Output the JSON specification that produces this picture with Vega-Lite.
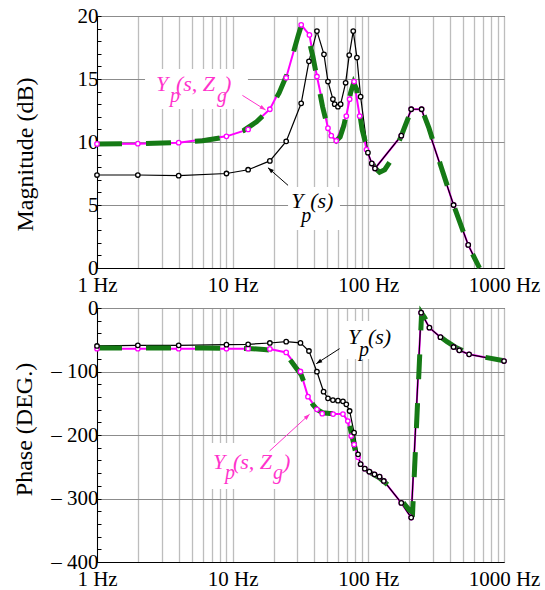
{
  "$schema": "https://vega.github.io/schema/vega-lite/v6.json",
  "padding": {"left": 12, "top": 4, "right": 0, "bottom": 0},
  "spacing": 0,
  "resolve": {"scale": {"x": "independent", "y": "independent"}},
  "config": {
    "font": "Liberation Serif, Times New Roman, serif",
    "view": {"stroke": "#000000", "strokeWidth": 1},
    "text": {"font": "Liberation Serif, Times New Roman, serif"},
    "axis": {"labelFont": "Liberation Serif, Times New Roman, serif", "titleFont": "Liberation Serif, Times New Roman, serif", "labelFontSize": 21, "titleFontSize": 24, "titleFontWeight": "normal", "labelColor": "#000000", "titleColor": "#000000", "domainColor": "#000000", "labelFlush": false, "labelOverlap": false}
  },
  "datasets": {
    "mag": [
      {"s":"m","f":1,"v":9.85},{"s":"m","f":2,"v":9.87},{"s":"m","f":4,"v":9.95},{"s":"m","f":9,"v":10.45},{"s":"m","f":13,"v":11.0},{"s":"m","f":18.8,"v":12.6},{"s":"m","f":24.8,"v":15.1},{"s":"m","f":32,"v":19.3},{"s":"m","f":36.8,"v":18.5},{"s":"m","f":41.8,"v":15.2},{"s":"m","f":50.4,"v":11.1},{"s":"m","f":53.3,"v":10.5},{"s":"m","f":58,"v":10.1},{"s":"m","f":68.8,"v":12.06},{"s":"m","f":72.8,"v":13.4},{"s":"m","f":78.5,"v":14.8},{"s":"m","f":86.3,"v":12.06},{"s":"m","f":96.9,"v":9.4},{"s":"m","f":106,"v":8.3},{"s":"m","f":112,"v":7.9},{"s":"m","f":175,"v":10.5},{"s":"m","f":207,"v":12.6},{"s":"m","f":247,"v":12.6},{"s":"m","f":425,"v":5.0},{"s":"m","f":545,"v":1.83},{"s":"m","f":660,"v":0},
      {"s":"k","f":1,"v":7.38},{"s":"k","f":2,"v":7.38},{"s":"k","f":4,"v":7.33},{"s":"k","f":9,"v":7.5},{"s":"k","f":13,"v":7.8},{"s":"k","f":18.8,"v":8.5},{"s":"k","f":24.8,"v":10.05},{"s":"k","f":32,"v":13.07},{"s":"k","f":36.5,"v":16.4},{"s":"k","f":41.8,"v":18.8},{"s":"k","f":47.1,"v":16.96},{"s":"k","f":50.4,"v":14.8},{"s":"k","f":54.8,"v":13.4},{"s":"k","f":56.5,"v":13.0},{"s":"k","f":59.7,"v":12.8},{"s":"k","f":62.5,"v":13.0},{"s":"k","f":68,"v":14.7},{"s":"k","f":72.3,"v":16.9},{"s":"k","f":77.4,"v":18.8},{"s":"k","f":82.4,"v":16.7},{"s":"k","f":87.7,"v":13.6},{"s":"k","f":99.3,"v":9.15},{"s":"k","f":106,"v":8.3},{"s":"k","f":112,"v":7.9},{"s":"k","f":175,"v":10.5},{"s":"k","f":207,"v":12.6},{"s":"k","f":247,"v":12.6},{"s":"k","f":425,"v":5.0},{"s":"k","f":545,"v":1.83},{"s":"k","f":660,"v":0},
      {"s":"g","f":1,"v":9.85},{"s":"g","f":2,"v":9.87},{"s":"g","f":4,"v":9.95},{"s":"g","f":6,"v":10.1},{"s":"g","f":9,"v":10.4},{"s":"g","f":12,"v":10.9},{"s":"g","f":15,"v":11.6},{"s":"g","f":18.8,"v":12.6},{"s":"g","f":22,"v":13.9},{"s":"g","f":25,"v":15.3},{"s":"g","f":28,"v":17.1},{"s":"g","f":30.5,"v":18.5},{"s":"g","f":32,"v":19.2},{"s":"g","f":34,"v":19.0},{"s":"g","f":36.5,"v":18.1},{"s":"g","f":39,"v":16.8},{"s":"g","f":42,"v":15.0},{"s":"g","f":46,"v":12.8},{"s":"g","f":50,"v":11.2},{"s":"g","f":54,"v":10.4},{"s":"g","f":58,"v":10.1},{"s":"g","f":62,"v":10.4},{"s":"g","f":66,"v":11.3},{"s":"g","f":70,"v":12.6},{"s":"g","f":74,"v":13.9},{"s":"g","f":78,"v":14.7},{"s":"g","f":82,"v":14.2},{"s":"g","f":86,"v":12.4},{"s":"g","f":90,"v":11.0},{"s":"g","f":95,"v":10.0},{"s":"g","f":100,"v":9.2},{"s":"g","f":106,"v":8.4},{"s":"g","f":113,"v":7.9},{"s":"g","f":121,"v":7.6},{"s":"g","f":132,"v":7.8},{"s":"g","f":150,"v":8.7},{"s":"g","f":175,"v":10.5},{"s":"g","f":200,"v":12.1},{"s":"g","f":225,"v":12.7},{"s":"g","f":250,"v":12.5},{"s":"g","f":280,"v":11.1},{"s":"g","f":340,"v":8.2},{"s":"g","f":425,"v":5.0},{"s":"g","f":545,"v":1.8},{"s":"g","f":660,"v":0}
    ],
    "ph": [
      {"s":"m","f":1,"v":-64},{"s":"m","f":2,"v":-64},{"s":"m","f":4,"v":-64},{"s":"m","f":9,"v":-64},{"s":"m","f":13,"v":-64},{"s":"m","f":18.8,"v":-64.5},{"s":"m","f":24.8,"v":-70},{"s":"m","f":31.6,"v":-100},{"s":"m","f":35.9,"v":-139.6},{"s":"m","f":41.8,"v":-159.6},{"s":"m","f":45.7,"v":-166.4},{"s":"m","f":55,"v":-167},{"s":"m","f":65,"v":-167},{"s":"m","f":70.6,"v":-178},{"s":"m","f":74.8,"v":-201.6},{"s":"m","f":78.5,"v":-215},{"s":"m","f":84,"v":-235},{"s":"m","f":87.7,"v":-246},{"s":"m","f":94.2,"v":-253},{"s":"m","f":101.8,"v":-257.7},{"s":"m","f":111,"v":-262},{"s":"m","f":121,"v":-265.6},{"s":"m","f":130,"v":-272.4},{"s":"m","f":175,"v":-307},{"s":"m","f":207,"v":-330},{"s":"m","f":245,"v":-7.4},{"s":"m","f":282,"v":-31},{"s":"m","f":340,"v":-46},{"s":"m","f":425,"v":-61.4},{"s":"m","f":468,"v":-66.6},{"s":"m","f":553,"v":-73},{"s":"m","f":1000,"v":-83.5},
      {"s":"k","f":1,"v":-59.8},{"s":"k","f":2,"v":-58.8},{"s":"k","f":4,"v":-58.8},{"s":"k","f":9,"v":-57.7},{"s":"k","f":13,"v":-57.2},{"s":"k","f":18.8,"v":-55.1},{"s":"k","f":24.8,"v":-53},{"s":"k","f":31.6,"v":-55},{"s":"k","f":36.5,"v":-67.7},{"s":"k","f":41.8,"v":-100.3},{"s":"k","f":46.8,"v":-131.8},{"s":"k","f":50.4,"v":-142.2},{"s":"k","f":54.8,"v":-145},{"s":"k","f":59.7,"v":-146},{"s":"k","f":65,"v":-147},{"s":"k","f":68.8,"v":-151.7},{"s":"k","f":72.8,"v":-162.2},{"s":"k","f":78.5,"v":-196.3},{"s":"k","f":84,"v":-230.4},{"s":"k","f":87.7,"v":-246},{"s":"k","f":94.2,"v":-253},{"s":"k","f":101.8,"v":-257.7},{"s":"k","f":111,"v":-262},{"s":"k","f":121,"v":-265.6},{"s":"k","f":130,"v":-272.4},{"s":"k","f":175,"v":-307},{"s":"k","f":207,"v":-330},{"s":"k","f":245,"v":-7.4},{"s":"k","f":282,"v":-31},{"s":"k","f":340,"v":-46},{"s":"k","f":425,"v":-61.4},{"s":"k","f":468,"v":-66.6},{"s":"k","f":553,"v":-73},{"s":"k","f":1000,"v":-83.5},
      {"s":"g","f":1,"v":-63},{"s":"g","f":3,"v":-63},{"s":"g","f":6,"v":-63},{"s":"g","f":10,"v":-63.5},{"s":"g","f":14,"v":-64},{"s":"g","f":17,"v":-65.5},{"s":"g","f":20,"v":-67},{"s":"g","f":23,"v":-72},{"s":"g","f":26,"v":-79},{"s":"g","f":29,"v":-93},{"s":"g","f":32,"v":-105},{"s":"g","f":34,"v":-120},{"s":"g","f":36,"v":-137},{"s":"g","f":39,"v":-152},{"s":"g","f":42,"v":-160},{"s":"g","f":46,"v":-165},{"s":"g","f":52,"v":-166},{"s":"g","f":60,"v":-166},{"s":"g","f":66,"v":-168},{"s":"g","f":70,"v":-174},{"s":"g","f":73,"v":-186},{"s":"g","f":76,"v":-203},{"s":"g","f":80,"v":-224},{"s":"g","f":84,"v":-239},{"s":"g","f":89,"v":-249},{"s":"g","f":95,"v":-254},{"s":"g","f":105,"v":-260},{"s":"g","f":120,"v":-267},{"s":"g","f":140,"v":-279},{"s":"g","f":160,"v":-292},{"s":"g","f":185,"v":-309},{"s":"g","f":200,"v":-318},{"s":"g","f":212,"v":-322},{"s":"g","f":247,"v":-8},{"s":"g","f":260,"v":-15},{"s":"g","f":282,"v":-29},{"s":"g","f":320,"v":-41},{"s":"g","f":380,"v":-53},{"s":"g","f":450,"v":-63},{"s":"g","f":550,"v":-71},{"s":"g","f":700,"v":-77},{"s":"g","f":1000,"v":-83}
    ],
    "tmag": [
      {"c":"m","r":"main","f":2.72,"v":14.05,"t":"Y"},{"c":"m","r":"sub","f":3.45,"v":13.2,"t":"p"},{"c":"m","r":"main","f":3.82,"v":14.05,"t":"(s, Z"},{"c":"m","r":"sub","f":7.66,"v":13.2,"t":"g"},{"c":"m","r":"main","f":8.62,"v":14.05,"t":")"},
      {"c":"k","r":"main","f":27.0,"v":4.79,"t":"Y"},{"c":"k","r":"sub","f":32.0,"v":3.65,"t":"p"},{"c":"k","r":"main","f":37.3,"v":4.79,"t":"(s)"}
    ],
    "tph": [
      {"c":"k","r":"main","f":70.7,"v":-57.2,"t":"Y"},{"c":"k","r":"sub","f":85.5,"v":-76,"t":"p"},{"c":"k","r":"main","f":99.3,"v":-57.2,"t":"(s)"},
      {"c":"m","r":"main","f":7.16,"v":-254,"t":"Y"},{"c":"m","r":"sub","f":8.78,"v":-270,"t":"p"},{"c":"m","r":"main","f":10.05,"v":-254,"t":"(s, Z"},{"c":"m","r":"sub","f":19.8,"v":-270,"t":"g"},{"c":"m","r":"main","f":23.5,"v":-254,"t":")"}
    ],
    "bmag": [
      {"f":2.26,"f2":12.96,"v":15.79,"v2":12.62},
      {"f":25.6,"f2":61.8,"v":6.43,"v2":3.02}
    ],
    "bph": [
      {"f":65,"f2":159.7,"v":-20.5,"v2":-80.3},
      {"f":6.36,"f2":28.8,"v":-212.6,"v2":-285}
    ],
    "amag": [
      {"id":"a1","c":"m","f":17.5,"v":12.54,"f0":11.8,"v0":13.7},
      {"id":"a2","c":"k","f":18.2,"v":7.96,"f0":25.6,"v0":6.56}
    ],
    "aph": [
      {"id":"a3","c":"k","f":41.3,"v":-87.7,"f0":61.4,"v0":-64},
      {"id":"a4","c":"m","f":36.9,"v":-167.4,"f0":18.7,"v0":-225.2}
    ]
  },
  "vconcat": [
    {
      "width": 407,
      "height": 252,
      "data": {"name": "mag"},
      "encoding": {
        "x": {"field": "f", "type": "quantitative", "scale": {"type": "log", "domain": [1, 1000]},
          "axis": {"title": null, "values": [1,2,3,4,5,6,7,8,9,10,20,30,40,50,60,70,80,90,100,200,300,400,500,600,700,800,900,1000], "labelExpr": "indexof([1,10,100,1000], datum.value) >= 0 ? datum.value + ' Hz' : ''", "ticks": false, "grid": true, "gridColor": "#bdbdbd", "gridWidth": 1.3, "labelPadding": 6}},
        "y": {"field": "v", "type": "quantitative", "scale": {"domain": [0, 20]},
          "axis": {"title": "Magnitude (dB)", "titleY": 138, "values": [0,1,2,3,4,5,6,7,8,9,10,11,12,13,14,15,16,17,18,19,20], "labelExpr": "datum.value % 5 === 0 ? datum.label : ''", "ticks": true, "tickSize": -4, "tickColor": "#000000", "labelPadding": 3, "grid": true, "gridColor": "#8c8c8c", "gridWidth": 1, "gridOpacity": {"condition": {"test": "datum.value % 5 === 0", "value": 1}, "value": 0}, "titlePadding": 40}}
      },
      "layer": [
        {"data": {"name": "bmag"}, "mark": {"type": "rect", "fill": "white", "stroke": null}, "encoding": {"x2": {"field": "f2"}, "y2": {"field": "v2"}}},
        {"transform": [{"filter": "datum.s === 'm'"}], "mark": {"type": "line", "color": "#ff00ff", "strokeWidth": 2}},
        {"transform": [{"filter": "datum.s === 'k'"}], "mark": {"type": "line", "color": "#000000", "strokeWidth": 1.2}},
        {"transform": [{"filter": "datum.s === 'g'"}], "mark": {"type": "line", "color": "#157a15", "strokeWidth": 5, "strokeDash": [25, 24], "strokeCap": "butt"}},
        {"transform": [{"filter": "datum.s === 'm' && datum.v > 0.3"}], "mark": {"type": "point", "shape": "circle", "filled": true, "fill": "white", "stroke": "#ff00ff", "strokeWidth": 1.3, "size": 20, "opacity": 1}},
        {"transform": [{"filter": "datum.s === 'k' && datum.v > 0.3"}], "mark": {"type": "point", "shape": "circle", "filled": true, "fill": "white", "stroke": "#000000", "strokeWidth": 1.3, "size": 20, "opacity": 1}},
        {"data": {"name": "amag"}, "mark": {"type": "rule", "strokeWidth": 1}, "encoding": {"x2": {"field": "f0"}, "y2": {"field": "v0"}, "color": {"field": "c", "type": "nominal", "scale": {"domain": ["k", "m"], "range": ["#000000", "#ff33cc"]}, "legend": null}}},
        {"data": {"name": "amag"}, "transform": [{"filter": "datum.id === 'a1'"}], "mark": {"type": "point", "shape": "M-2,-0.7L0,0L-2,0.7Z", "angle": 32, "filled": true, "size": 36, "opacity": 1}, "encoding": {"color": {"field": "c", "type": "nominal", "scale": {"domain": ["k", "m"], "range": ["#000000", "#ff33cc"]}, "legend": null}}},
        {"data": {"name": "amag"}, "transform": [{"filter": "datum.id === 'a2'"}], "mark": {"type": "point", "shape": "M-2,-0.7L0,0L-2,0.7Z", "angle": 221, "filled": true, "size": 36, "opacity": 1}, "encoding": {"color": {"field": "c", "type": "nominal", "scale": {"domain": ["k", "m"], "range": ["#000000", "#ff33cc"]}, "legend": null}}},
        {"data": {"name": "tmag"}, "transform": [{"filter": "datum.r === 'main'"}], "mark": {"type": "text", "align": "left", "baseline": "alphabetic", "font": "Liberation Serif, Times New Roman, serif", "fontStyle": "italic", "fontSize": 22}, "encoding": {"text": {"field": "t"}, "color": {"field": "c", "type": "nominal", "scale": {"domain": ["k", "m"], "range": ["#000000", "#ff33cc"]}, "legend": null}}},
        {"data": {"name": "tmag"}, "transform": [{"filter": "datum.r === 'sub'"}], "mark": {"type": "text", "align": "left", "baseline": "alphabetic", "font": "Liberation Serif, Times New Roman, serif", "fontStyle": "italic", "fontSize": 20}, "encoding": {"text": {"field": "t"}, "color": {"field": "c", "type": "nominal", "scale": {"domain": ["k", "m"], "range": ["#000000", "#ff33cc"]}, "legend": null}}}
      ]
    },
    {
      "width": 407,
      "height": 254,
      "data": {"name": "ph"},
      "encoding": {
        "x": {"field": "f", "type": "quantitative", "scale": {"type": "log", "domain": [1, 1000]},
          "axis": {"title": null, "values": [1,2,3,4,5,6,7,8,9,10,20,30,40,50,60,70,80,90,100,200,300,400,500,600,700,800,900,1000], "labelExpr": "indexof([1,10,100,1000], datum.value) >= 0 ? datum.value + ' Hz' : ''", "ticks": false, "grid": true, "gridColor": "#bdbdbd", "gridWidth": 1.3, "labelPadding": 6}},
        "y": {"field": "v", "type": "quantitative", "scale": {"domain": [-400, 0]},
          "axis": {"title": "Phase (DEG.)", "titleY": 121, "values": [-400,-380,-360,-340,-320,-300,-280,-260,-240,-220,-200,-180,-160,-140,-120,-100,-80,-60,-40,-20,0], "labelExpr": "datum.value % 100 === 0 ? (datum.value < 0 ? '– ' + (-datum.value) : '0') : ''", "ticks": true, "tickSize": -4, "tickColor": "#000000", "labelPadding": 3, "grid": true, "gridColor": "#8c8c8c", "gridWidth": 1, "gridOpacity": {"condition": {"test": "datum.value % 100 === 0", "value": 1}, "value": 0}, "titlePadding": 14}}
      },
      "layer": [
        {"data": {"name": "bph"}, "mark": {"type": "rect", "fill": "white", "stroke": null}, "encoding": {"x2": {"field": "f2"}, "y2": {"field": "v2"}}},
        {"transform": [{"filter": "datum.s === 'm'"}], "mark": {"type": "line", "color": "#ff00ff", "strokeWidth": 2}},
        {"transform": [{"filter": "datum.s === 'k'"}], "mark": {"type": "line", "color": "#000000", "strokeWidth": 1.2}},
        {"transform": [{"filter": "datum.s === 'g'"}], "mark": {"type": "line", "color": "#157a15", "strokeWidth": 5, "strokeDash": [25, 24], "strokeCap": "butt"}},
        {"transform": [{"filter": "datum.s === 'm'"}], "mark": {"type": "point", "shape": "circle", "filled": true, "fill": "white", "stroke": "#ff00ff", "strokeWidth": 1.3, "size": 20, "opacity": 1}},
        {"transform": [{"filter": "datum.s === 'k'"}], "mark": {"type": "point", "shape": "circle", "filled": true, "fill": "white", "stroke": "#000000", "strokeWidth": 1.3, "size": 20, "opacity": 1}},
        {"data": {"name": "aph"}, "mark": {"type": "rule", "strokeWidth": 1}, "encoding": {"x2": {"field": "f0"}, "y2": {"field": "v0"}, "color": {"field": "c", "type": "nominal", "scale": {"domain": ["k", "m"], "range": ["#000000", "#ff33cc"]}, "legend": null}}},
        {"data": {"name": "aph"}, "transform": [{"filter": "datum.id === 'a3'"}], "mark": {"type": "point", "shape": "M-2,-0.7L0,0L-2,0.7Z", "angle": 147, "filled": true, "size": 36, "opacity": 1}, "encoding": {"color": {"field": "c", "type": "nominal", "scale": {"domain": ["k", "m"], "range": ["#000000", "#ff33cc"]}, "legend": null}}},
        {"data": {"name": "aph"}, "transform": [{"filter": "datum.id === 'a4'"}], "mark": {"type": "point", "shape": "M-2,-0.7L0,0L-2,0.7Z", "angle": 317, "filled": true, "size": 36, "opacity": 1}, "encoding": {"color": {"field": "c", "type": "nominal", "scale": {"domain": ["k", "m"], "range": ["#000000", "#ff33cc"]}, "legend": null}}},
        {"data": {"name": "tph"}, "transform": [{"filter": "datum.r === 'main'"}], "mark": {"type": "text", "align": "left", "baseline": "alphabetic", "font": "Liberation Serif, Times New Roman, serif", "fontStyle": "italic", "fontSize": 22}, "encoding": {"text": {"field": "t"}, "color": {"field": "c", "type": "nominal", "scale": {"domain": ["k", "m"], "range": ["#000000", "#ff33cc"]}, "legend": null}}},
        {"data": {"name": "tph"}, "transform": [{"filter": "datum.r === 'sub'"}], "mark": {"type": "text", "align": "left", "baseline": "alphabetic", "font": "Liberation Serif, Times New Roman, serif", "fontStyle": "italic", "fontSize": 20}, "encoding": {"text": {"field": "t"}, "color": {"field": "c", "type": "nominal", "scale": {"domain": ["k", "m"], "range": ["#000000", "#ff33cc"]}, "legend": null}}}
      ]
    }
  ]
}
